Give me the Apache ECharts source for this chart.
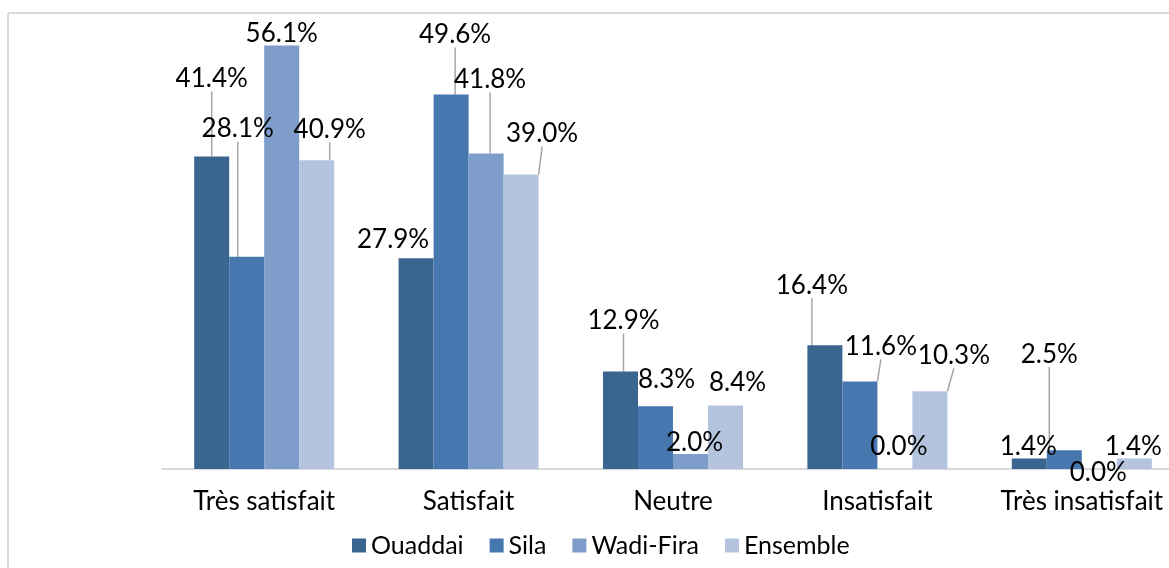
<!DOCTYPE html>
<html>
<head>
<meta charset="utf-8">
<script src="https://cdn.jsdelivr.net/npm/echarts@6/dist/echarts.min.js"></script>
<style>
  html, body { margin: 0; padding: 0; background: #fff; }
  #chart { width: 1169px; height: 568px; }
</style>
</head>
<body>
<div id="chart"></div>
<script>
// données
const categories = ['Très satisfait', 'Satisfait', 'Neutre', 'Insatisfait', 'Très insatisfait'];
const seriesNames = ['Ouaddai', 'Sila', 'Wadi-Fira', 'Ensemble'];
const ouaddai = [41.4, 27.9, 12.9, 16.4, 1.4];
const sila = [28.1, 49.6, 8.3, 11.6, 2.5];
const wadiFira = [56.1, 41.8, 2.0, 0.0, 0.0];
const ensemble = [40.9, 39.0, 8.4, 10.3, 1.4];

const colors = ['#3B6591', '#4677AF', '#7E9DCA', '#B4C4DE'];

// position des étiquettes (centre du texte, relatif au haut de la barre) [dx, dy, trait]
const labelPos = [
  [[0, -78, true], [-23, -19, false], [3, -51, true], [-13, -60, true], [-1, -12, false]],
  [[-9, -128, true], [4, -60, true], [11, -27, false], [21, -35, true], [-15, -96, true]],
  [[0, -12, false], [4, -74, true], [4, -11, false], [4, -22, false], [-1, 4, false]],
  [[13, -31, true], [21, -41, true], [12, -23, false], [24, -36, true], [-1, -12, false]]
];

const allValues = [ouaddai, sila, wadiFira, ensemble];

const chart = echarts.init(document.getElementById('chart'));

const series = allValues.map(function (vals, s) {
  return {
    name: seriesNames[s],
    type: 'bar',
    barGap: '0%',
    barCategoryGap: '31.5%',
    itemStyle: { color: colors[s] },
    data: vals.map(function (v, i) {
      return {
        value: v,
        labelLine: { show: labelPos[s][i][2] }
      };
    }),
    label: {
      show: true,
      position: 'top',
      formatter: function (p) { return p.value.toFixed(1) + '%'; },
      fontFamily: 'Lato',
      fontSize: 26,
      color: '#000'
    },
    labelLine: {
      lineStyle: { color: '#A6A6A6', width: 1.5 }
    },
    labelLayout: function (params) {
      const pos = labelPos[params.seriesIndex][params.dataIndex];
      return {
        x: params.rect.x + params.rect.width / 2 + pos[0],
        y: params.rect.y + pos[1],
        align: 'center',
        verticalAlign: 'middle'
      };
    }
  };
});

chart.setOption({
  animation: false,
  textStyle: { fontFamily: 'Lato' },
  // la zone de tracé dépasse à droite (image rognée)
  grid: { left: 162, width: 1022, top: 16, bottom: 99, outerBoundsMode: 'none' },
  legend: {
    data: seriesNames,
    top: 528,
    left: 347,
    itemWidth: 14,
    itemHeight: 14,
    itemGap: 26,
    icon: 'rect',
    textStyle: { fontFamily: 'Lato', fontSize: 25, color: '#000' }
  },
  xAxis: {
    type: 'category',
    data: categories,
    axisLine: { lineStyle: { color: '#D9D9D9', width: 2 } },
    axisTick: { show: false },
    axisLabel: { interval: 0, fontFamily: 'Lato', fontSize: 26, color: '#000', margin: 20 }
  },
  yAxis: {
    type: 'value',
    min: 0,
    max: 60,
    show: false
  },
  graphic: [
    { type: 'line', shape: { x1: 8, y1: 13, x2: 8, y2: 568 }, style: { stroke: '#D9D9D9', lineWidth: 2 } },
    { type: 'line', shape: { x1: 8, y1: 13, x2: 1169, y2: 13 }, style: { stroke: '#D9D9D9', lineWidth: 2 } }
  ],
  series: series
});
</script>
</body>
</html>
